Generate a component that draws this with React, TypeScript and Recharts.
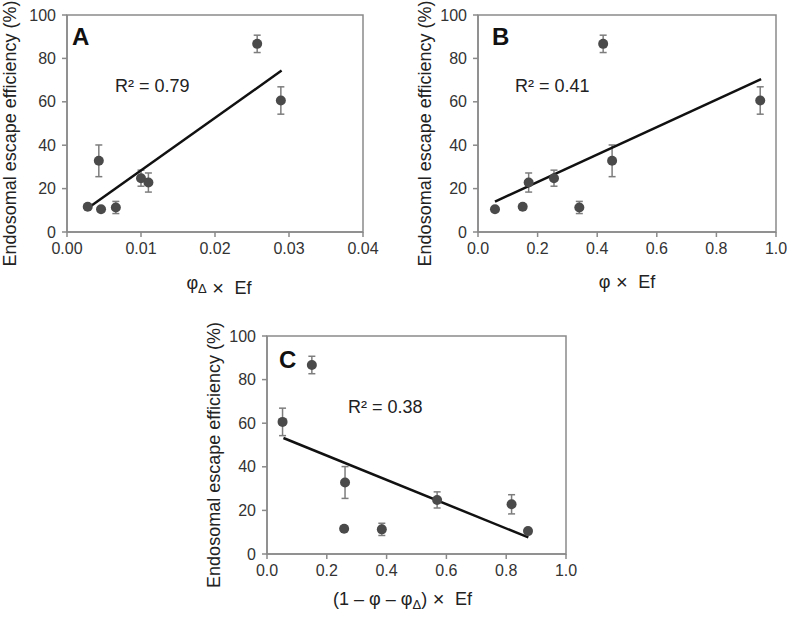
import {
  ScatterChart,
  Scatter,
  XAxis,
  YAxis,
  ErrorBar,
  ReferenceLine,
  ReferenceArea,
} from 'recharts'

const FONT = '"Liberation Sans", Arial, sans-serif'

// escape efficiency per sample (%), same samples in every panel
const escapeEff = [86.7, 60.6, 32.8, 24.8, 22.8, 11.6, 11.3, 10.5]
const escapeErr = [4.0, 6.3, 7.3, 3.7, 4.4, 1.2, 2.8, 1.0]

// x values per panel
const xPhiDelta = [0.0257, 0.0289, 0.0043, 0.01, 0.011, 0.0028, 0.0066, 0.0046]
const xPhi = [0.42, 0.947, 0.45, 0.255, 0.17, 0.15, 0.34, 0.057]
const xRest = [0.15, 0.052, 0.261, 0.569, 0.818, 0.258, 0.384, 0.873]

// linear fit end points
const trendA = [{ x: 0.0028, y: 10.9 }, { x: 0.029, y: 74.4 }]
const trendB = [{ x: 0.057, y: 14.0 }, { x: 0.95, y: 70.5 }]
const trendC = [{ x: 0.055, y: 53.2 }, { x: 0.874, y: 7.6 }]

const yTicks = [0, 20, 40, 60, 80, 100]
const xTicksA = [0, 0.01, 0.02, 0.03, 0.04]
const xTicksBC = [0, 0.2, 0.4, 0.6, 0.8, 1.0]

const AXIS = '#8a8a8a'
const DOT = '#4a4a4a'
const ERR = '#7d7d7d'

const toRows = (xs: number[]) =>
  xs.map((x, i) => ({ x, y: escapeEff[i], err: escapeErr[i] }))

const Dot = (p: any) => <circle cx={p.cx} cy={p.cy} r={5} fill={DOT} />

// "× Ef" tail shared by all x-axis titles
const Times = () => (
  <>
    <tspan fontSize={20}>{'\u00a0\u00d7\u00a0'}</tspan>
    <tspan>{'\u00a0Ef'}</tspan>
  </>
)

type PanelProps = {
  left: number
  top: number
  width: number
  height: number
  plot: { x0: number; x1: number; y0: number; y1: number }
  xs: number[]
  xTicks: number[]
  digits: number
  trend: { x: number; y: number }[]
  letter: string
  letterPos: [number, number]
  r2: string
  r2Pos: [number, number]
  yLabelX: number
  xLabelDx: number
  xLabelDy: number
  xLabel: React.ReactNode
}

function Panel(props: PanelProps) {
  const { left, top, width, height, plot, xs, xTicks, digits, trend } = props
  const xMax = xTicks[xTicks.length - 1]
  const plotMidX = (plot.x0 + plot.x1) / 2
  const plotMidY = (plot.y0 + plot.y1) / 2
  return (
    <div style={{ position: 'absolute', left, top, width, height }}>
      <ScatterChart
        width={width}
        height={height}
        margin={{ top: plot.y0, right: width - plot.x1, bottom: 0, left: 0 }}
        style={{ overflow: 'visible' }}
      >
        <ReferenceArea
          x1={0}
          x2={xMax}
          y1={0}
          y2={100}
          fill='none'
          stroke={AXIS}
          strokeWidth={1.5}
          fillOpacity={0}
        />
        <XAxis
          type='number'
          dataKey='x'
          domain={[0, xMax]}
          ticks={xTicks}
          tickFormatter={(v: number) => v.toFixed(digits)}
          height={height - plot.y1}
          stroke={AXIS}
          strokeWidth={1.5}
          tickSize={5}
          tickMargin={6}
          tick={{ fill: '#333', fontSize: 16, fontFamily: FONT }}
        />
        <YAxis
          type='number'
          dataKey='y'
          domain={[0, 100]}
          ticks={yTicks}
          width={plot.x0}
          stroke={AXIS}
          strokeWidth={1.5}
          tickSize={5}
          tickMargin={6}
          tick={{ fill: '#333', fontSize: 16, fontFamily: FONT }}
        />
        <Scatter data={toRows(xs)} shape={Dot} isAnimationActive={false}>
          <ErrorBar
            dataKey='err'
            direction='y'
            width={3.5}
            stroke={ERR}
            strokeWidth={1.5}
            isAnimationActive={false}
          />
        </Scatter>
        <ReferenceLine
          segment={trend}
          stroke='#111'
          strokeWidth={2.5}
        />
      </ScatterChart>
      <svg
        width={width}
        height={height}
        style={{ position: 'absolute', left: 0, top: 0, pointerEvents: 'none', overflow: 'visible' }}
        fontFamily={FONT}
      >
        <text x={props.letterPos[0]} y={props.letterPos[1]} fontSize={24} fontWeight='bold' fill='#111'>
          {props.letter}
        </text>
        <text x={props.r2Pos[0]} y={props.r2Pos[1]} fontSize={18} fill='#222'>
          {props.r2}
        </text>
        <text
          x={props.yLabelX}
          y={plotMidY + 10}
          fontSize={18}
          fill='#222'
          textAnchor='middle'
          dominantBaseline='central'
          transform={`rotate(-90 ${props.yLabelX} ${plotMidY + 10})`}
        >
          Endosomal escape efficiency (%)
        </text>
        <text
          x={plotMidX + props.xLabelDx}
          y={plot.y1 + props.xLabelDy}
          fontSize={18}
          fill='#222'
          textAnchor='middle'
          dominantBaseline='central'
        >
          {props.xLabel}
        </text>
      </svg>
    </div>
  )
}

export default function App() {
  return (
    <div style={{ position: 'absolute', left: 0, top: 0, width: 787, height: 619, background: '#fff' }}>
      <Panel
        left={0}
        top={0}
        width={390}
        height={300}
        plot={{ x0: 67, x1: 363, y0: 15, y1: 232 }}
        xs={xPhiDelta}
        xTicks={xTicksA}
        digits={2}
        trend={trendA}
        letter='A'
        letterPos={[72, 45]}
        r2='R² = 0.79'
        r2Pos={[115, 92]}
        yLabelX={10}
        xLabelDx={4}
        xLabelDy={51}
        xLabel={
          <>
            <tspan>φ</tspan>
            <tspan fontSize={13} dy={5}>Δ</tspan>
            <tspan dy={-5} />
            <Times />
          </>
        }
      />
      <Panel
        left={400}
        top={0}
        width={387}
        height={300}
        plot={{ x0: 78, x1: 376, y0: 15, y1: 232 }}
        xs={xPhi}
        xTicks={xTicksBC}
        digits={1}
        trend={trendB}
        letter='B'
        letterPos={[92, 45]}
        r2='R² = 0.41'
        r2Pos={[115, 92]}
        yLabelX={25}
        xLabelDx={0}
        xLabelDy={50}
        xLabel={
          <>
            <tspan>φ</tspan>
            <Times />
          </>
        }
      />
      <Panel
        left={190}
        top={310}
        width={420}
        height={309}
        plot={{ x0: 77, x1: 376, y0: 26, y1: 244 }}
        xs={xRest}
        xTicks={xTicksBC}
        digits={1}
        trend={trendC}
        letter='C'
        letterPos={[89, 58]}
        r2='R² = 0.38'
        r2Pos={[158, 103]}
        yLabelX={24}
        xLabelDx={-14}
        xLabelDy={45}
        xLabel={
          <>
            <tspan>(1 – φ – φ</tspan>
            <tspan fontSize={13} dy={5}>Δ</tspan>
            <tspan dy={-5}>)</tspan>
            <Times />
          </>
        }
      />
    </div>
  )
}
